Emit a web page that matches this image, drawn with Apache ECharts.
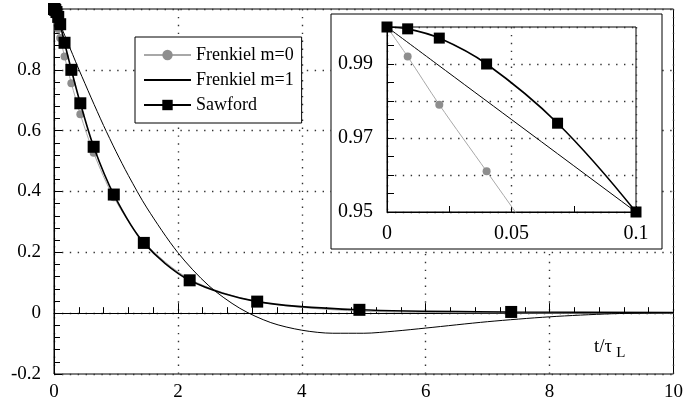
<!DOCTYPE html>
<html>
<head>
<meta charset="utf-8">
<script src="https://cdn.jsdelivr.net/npm/echarts@6/dist/echarts.min.js"></script>
<style>
html,body{margin:0;padding:0;background:#fff;}
#c{width:686px;height:408px;}
</style>
</head>
<body>
<div id="c"></div>
<script>
// ---- data ----
// marker abscissae (t / tau_L), shared by the Sawford and Frenkiel m=0 markers
const tMarks = [0, 0.0083, 0.021, 0.04, 0.0685, 0.1, 0.17, 0.28, 0.425, 0.64, 0.965, 1.45, 2.19, 3.28, 4.93, 7.38];
const sawfordMarks = [1.0, 0.9995, 0.997, 0.990, 0.974, 0.950, 0.889, 0.800, 0.690, 0.547, 0.390, 0.231, 0.108, 0.038, 0.011, 0.004];
const frenkiel0Marks = [1.0, 0.992, 0.979, 0.961, 0.934, 0.905, 0.844, 0.756, 0.654, 0.527, 0.381, 0.235, 0.112, 0.038, 0.007, 0.001];
const sawfordEnd = [10, 0.002];
const frenkiel0End = [10, 0.0];
// Frenkiel m=1 curve
const f1T = [0, 0.02, 0.05, 0.1, 0.2, 0.3, 0.4, 0.5, 0.6, 0.8, 1.0, 1.2, 1.5, 2.0, 2.5, 3.0, 3.5, 4.0, 4.5, 5.0, 5.5, 6.0, 7.0, 8.0, 9.0, 10];
const f1Y = [1.0, 0.990, 0.975, 0.950, 0.900, 0.851, 0.802, 0.755, 0.708, 0.617, 0.532, 0.453, 0.346, 0.199, 0.090, 0.016, -0.031, -0.056, -0.066, -0.066, -0.059, -0.049, -0.028, -0.012, -0.002, 0.002];
// axes
const mainX = {min: 0, max: 10, interval: 2};
const mainY = {min: -0.2, max: 1.0, interval: 0.2};
const insetX = {min: 0, max: 0.1, interval: 0.05};
const insetY = {min: 0.95, max: 1.0, interval: 0.01};
const insetYLabels = ['0.95', '0.97', '0.99'];
const insetXLabels = ['0', '0.05', '0.1'];
const names = ['Frenkiel m=0', 'Frenkiel m=1', 'Sawford'];

const FONT = 'serif';
function pairs(xs, ys) { return xs.map((x, i) => [x, ys[i]]); }

const chart = echarts.init(document.getElementById('c'));

const dotted = {color: '#333', width: 1.4, type: [1.4, 6.5]};

function mainSeries(xi, yi, z, big) {
  return [
    {
      name: names[0], type: 'line', xAxisIndex: xi, yAxisIndex: yi, z: z,
      data: pairs(tMarks, frenkiel0Marks).concat([{value: frenkiel0End, symbol: 'none'}]),
      smooth: 0.3, symbol: 'circle', symbolSize: 8,
      itemStyle: {color: '#8e8e8e'},
      lineStyle: {color: '#a8a8a8', width: 1},
      emphasis: {disabled: true}
    },
    {
      name: names[1], type: 'line', xAxisIndex: xi, yAxisIndex: yi, z: z + 1,
      data: pairs(f1T, f1Y), smooth: 0.3, symbol: 'none', showSymbol: false,
      itemStyle: {color: '#000'},
      lineStyle: {color: '#000', width: 1},
      emphasis: {disabled: true}
    },
    {
      name: names[2], type: 'line', xAxisIndex: xi, yAxisIndex: yi, z: z + 2,
      data: pairs(tMarks, sawfordMarks).concat([{value: sawfordEnd, symbol: 'none'}]),
      smooth: 0.3, symbol: 'rect', symbolSize: big ? 12 : 11,
      itemStyle: {color: '#000'},
      lineStyle: {color: '#000', width: 1.6},
      emphasis: {disabled: true}
    }
  ];
}

const option = {
  animation: false,
  backgroundColor: '#fff',
  grid: [
    {left: 54, top: 9, width: 622, height: 365, show: true, borderColor: '#000', borderWidth: 1, backgroundColor: 'transparent', z: 0},
    {left: 387, top: 27, width: 249, height: 185, show: true, borderColor: '#000', borderWidth: 1, backgroundColor: 'transparent', z: 10}
  ],
  xAxis: [
    {
      type: 'value', gridIndex: 0, min: mainX.min, max: mainX.max, interval: mainX.interval, z: 0,
      axisLine: {show: true, lineStyle: {color: '#000', width: 1}},
      axisTick: {show: true, inside: true, length: 10, lineStyle: {color: '#000'}},
      minorTick: {show: true, splitNumber: 5, length: 6, lineStyle: {color: '#000'}},
      splitLine: {show: true, lineStyle: dotted},
      axisLabel: {color: '#000', fontSize: 19, fontFamily: FONT, margin: 9,
        formatter: v => String(Math.round(v))}
    },
    {
      type: 'value', gridIndex: 1, min: insetX.min, max: insetX.max, interval: insetX.interval, z: 10,
      axisLine: {show: true, lineStyle: {color: '#000', width: 1}},
      axisTick: {show: true, inside: true, length: 6, lineStyle: {color: '#000'}},
      minorTick: {show: true, splitNumber: 2, length: 6, lineStyle: {color: '#000'}},
      splitLine: {show: true, lineStyle: dotted},
      axisLabel: {color: '#000', fontSize: 20, fontFamily: FONT, margin: 12,
        formatter: v => insetXLabels[Math.round(v / insetX.interval)] || ''}
    }
  ],
  yAxis: [
    {
      type: 'value', gridIndex: 0, min: mainY.min, max: mainY.max, interval: mainY.interval, z: 0,
      axisLine: {show: true, lineStyle: {color: '#000', width: 1}},
      axisTick: {show: true, inside: true, length: 8, lineStyle: {color: '#000'}},
      minorTick: {show: true, splitNumber: 5, length: 6, lineStyle: {color: '#000'}},
      splitLine: {show: true, lineStyle: dotted},
      axisLabel: {color: '#000', fontSize: 19, fontFamily: FONT, margin: 13,
        formatter: v => (v > 0.95 ? '' : String(Math.round(v * 10) / 10))}
    },
    {
      type: 'value', gridIndex: 1, min: insetY.min, max: insetY.max, interval: insetY.interval, z: 10,
      axisLine: {show: true, lineStyle: {color: '#000', width: 1}},
      axisTick: {show: true, inside: true, length: 7, lineStyle: {color: '#000'}},
      minorTick: {show: true, splitNumber: 2, length: 7, lineStyle: {color: '#000'}},
      splitLine: {show: true, lineStyle: dotted},
      axisLabel: {color: '#000', fontSize: 20, fontFamily: FONT, margin: 14,
        formatter: v => {
          const s = (Math.round(v * 100) / 100).toFixed(2);
          return insetYLabels.indexOf(s) >= 0 ? s : '';
        }}
    }
  ],
  legend: {
    data: [
      {name: names[0]},
      {name: names[1], itemStyle: {opacity: 0, color: 'rgba(0,0,0,0)', borderColor: 'rgba(0,0,0,0)'}},
      {name: names[2]}
    ],
    orient: 'vertical',
    left: 135, top: 37,
    itemWidth: 47, itemHeight: 13, itemGap: 7,
    padding: [9, 8, 9, 8],
    backgroundColor: '#fff',
    borderColor: '#000', borderWidth: 1,
    selectedMode: false,
    textStyle: {color: '#000', fontSize: 18, fontFamily: FONT, lineHeight: 18},
    z: 20
  },
  graphic: [
    {
      type: 'rect', z: 5,
      shape: {x: 331, y: 14, width: 331, height: 235},
      style: {fill: '#fff', stroke: '#000', lineWidth: 1}
    },
    {
      type: 'text', z: 6, x: 594, y: 334,
      style: {
        text: '{a|t/τ}{s|L}',
        fontFamily: FONT, fontSize: 19, fill: '#000',
        rich: {
          a: {fontSize: 19, fontFamily: FONT, fill: '#000'},
          s: {fontSize: 15, fontFamily: FONT, fill: '#000', padding: [12, 0, 0, 4]}
        }
      }
    }
  ],
  series: mainSeries(0, 0, 2, true).concat(mainSeries(1, 1, 11, false))
};

chart.setOption(option);
</script>
</body>
</html>
